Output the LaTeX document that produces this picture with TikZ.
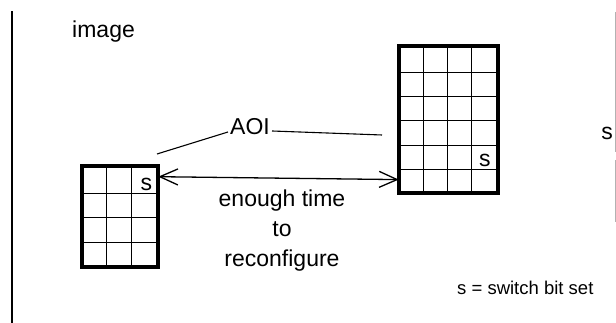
\documentclass[tikz,border=0pt]{standalone}
\usepackage{fontspec}
\setmainfont{Liberation Sans}
\usetikzlibrary{positioning, arrows.meta, calc}

\begin{document}
\begin{tikzpicture}[x=1pt, y=1pt,
		griglia/.style={rectangle, draw, line width=2.6pt, inner sep=0pt},
		cella/.style={line width=0.9pt},
		testo/.style={font=\fontsize{23}{30}\selectfont},
		legenda/.style={font=\fontsize{18.5}{22}\selectfont}]
		
		\useasboundingbox (0,0) rectangle (616,323);
		
		%Rappresento i bordi della pagina
		\draw[line width=1.4pt] (12,311.5) -- (12,0);
		\draw[gray!60, line width=0.9pt] (615.5,311) -- (615.5,171);
		\draw[gray!60, line width=0.9pt] (615.5,163) -- (615.5,101);
		
		%Rappresento le griglie
		\node(SmallAOI) at (120,106.5) [griglia, minimum width=74, minimum height=99]{};
		\node(LargeAOI) at (448.5,203.5) [griglia, minimum width=97, minimum height=145]{};
		
		\foreach \i in {1,2}
			\draw[cella] ($(SmallAOI.south west)+(\i*74/3,0)$) -- ++(0,99);
		\foreach \j in {1,2,3}
			\draw[cella] ($(SmallAOI.south west)+(0,\j*99/4)$) -- ++(74,0);
		\foreach \i in {1,2,3}
			\draw[cella] ($(LargeAOI.south west)+(\i*97/4,0)$) -- ++(0,145);
		\foreach \j in {1,...,5}
			\draw[cella] ($(LargeAOI.south west)+(0,\j*145/6)$) -- ++(97,0);
		
		%Ridisegno i bordi sopra le celle
		\draw[line width=2.6pt] (SmallAOI.south west) rectangle (SmallAOI.north east);
		\draw[line width=2.6pt] (LargeAOI.south west) rectangle (LargeAOI.north east);
		
		%Inserisco i bit di switch
		\node(SwitchSmall) at ($(SmallAOI.north east)+(-6,-24.75)$) [testo, anchor=base east, inner sep=0pt]{s};
		\node(SwitchLarge) at ($(LargeAOI.south west)+(92,26.5)$) [testo, anchor=base east, inner sep=0pt]{s};
		\node(SwitchRight) at (613,183) [testo, anchor=base east, inner sep=0pt]{s};
		
		%Inserisco le etichette
		\node(Image) at (72,285) [testo, anchor=base west, inner sep=0pt]{image};
		\node(AOI) at (250,188) [testo, anchor=base, inner sep=2pt]{AOI};
		\node(Reconfigure) at (282,92) [testo, align=center, inner sep=0pt]{enough time\\to\\reconfigure};
		\node(Legend) at (457,28) [legenda, anchor=base west, inner sep=0pt]{s = switch bit set};
		
		%Rappresento i collegamenti
		\coordinate (AOIsmall) at (157,169);
		\coordinate (AOIlarge) at (382,188);
		\draw[line width=1.1pt] ([yshift=3pt]AOI.base west) -- (AOIsmall);
		\draw[line width=1.1pt] ([yshift=4pt]AOI.base east) -- (AOIlarge);
		\draw[{Straight Barb[length=18pt, width=16pt]}-{Straight Barb[length=18pt, width=16pt]}, line width=1.3pt] ($(SmallAOI.north east)+(0,-11)$) coordinate (ArrowL) -- ($(LargeAOI.south west)+(0,13.7)$) coordinate (ArrowR);
		
		\end{tikzpicture}
\end{document}
